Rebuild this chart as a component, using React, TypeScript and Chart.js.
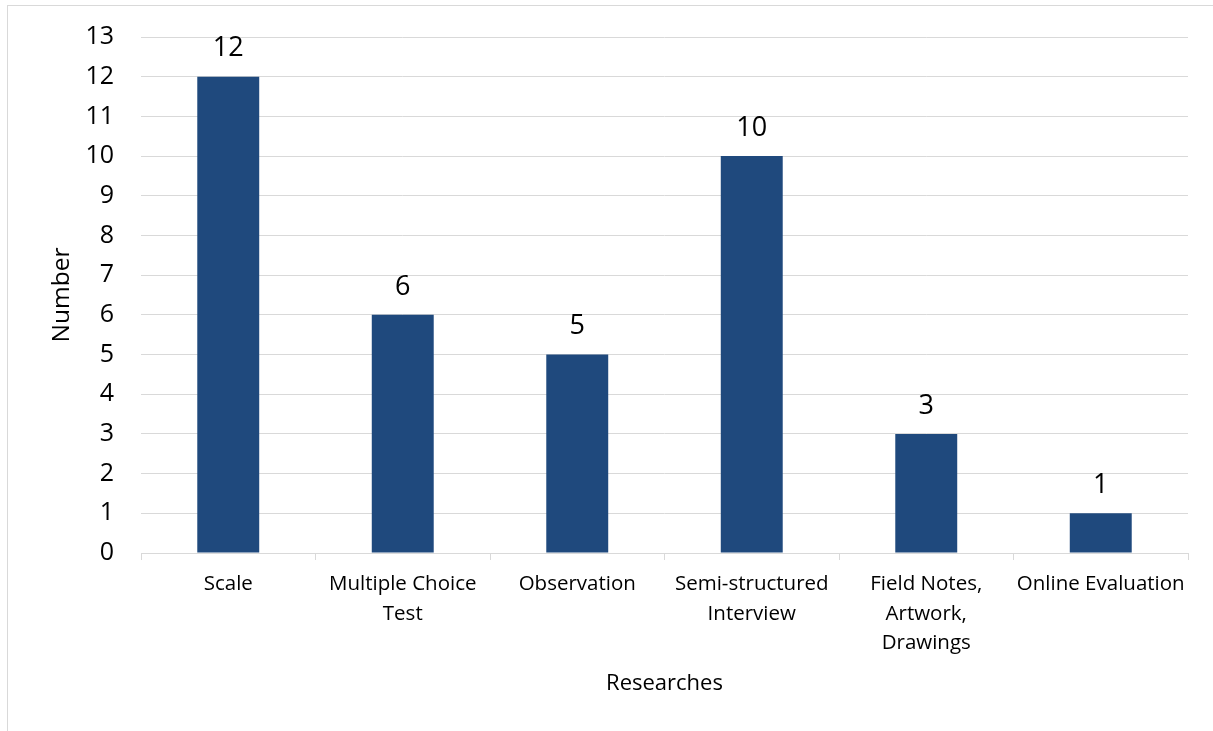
import React, { useEffect, useRef } from "react";
import { Chart, registerables } from "chart.js";

Chart.register(...registerables);

const categories: string[][] = [
  ["Scale"],
  ["Multiple Choice", "Test"],
  ["Observation"],
  ["Semi-structured", "Interview"],
  ["Field Notes,", "Artwork,", "Drawings"],
  ["Online Evaluation"],
];
const counts: number[] = [12, 6, 5, 10, 3, 1];
const yTitle = "Number";
const xTitle = "Researches";

const FONT = "'Open Sans', 'Noto Sans', sans-serif";
const GRID = "#d9d9d9";
const BAR = "#1f497d";

const dataLabels = {
  id: "dataLabels",
  afterDatasetsDraw(chart: any) {
    const ctx = chart.ctx;
    const meta = chart.getDatasetMeta(0);
    ctx.save();
    ctx.font = `27px ${FONT}`;
    ctx.fillStyle = "#000";
    ctx.textAlign = "center";
    ctx.textBaseline = "middle";
    meta.data.forEach((el: any, i: number) => {
      ctx.fillText(String(chart.data.datasets[0].data[i]), el.x, el.y - 28);
    });
    ctx.restore();
  },
};

export default function App() {
  const ref = useRef<HTMLCanvasElement | null>(null);
  useEffect(() => {
    document.body.style.margin = "0";
    const chart = new Chart(ref.current as HTMLCanvasElement, {
      type: "bar",
      data: {
        labels: categories,
        datasets: [
          {
            data: counts,
            backgroundColor: BAR,
            borderWidth: 0,
            categoryPercentage: 1,
            barPercentage: 0.355,
          },
        ],
      },
      options: {
        animation: false,
        responsive: true,
        maintainAspectRatio: false,
        layout: { padding: { left: 43, right: 25, top: 37, bottom: 30 } },
        plugins: {
          legend: { display: false },
          tooltip: { enabled: false },
        },
        scales: {
          x: {
            grid: {
              display: true,
              drawOnChartArea: false,
              drawTicks: true,
              tickLength: 7,
              color: GRID,
              offset: true,
            },
            border: { display: true, color: GRID, width: 1 },
            ticks: {
              color: "#000",
              font: { family: FONT, size: 20.5, lineHeight: 1.42 },
              padding: 10,
              maxRotation: 0,
              autoSkip: false,
            },
            title: {
              display: true,
              text: xTitle,
              color: "#000",
              font: { family: FONT, size: 22 },
              padding: { top: 4, bottom: 4 },
            },
            afterFit(scale: any) {
              scale.height = 148;
            },
          },
          y: {
            min: 0,
            max: 13,
            grid: {
              color: GRID,
              drawTicks: true,
              tickLength: 24,
              tickColor: "rgba(0,0,0,0)",
              lineWidth: 1,
            },
            border: { display: false },
            ticks: {
              stepSize: 1,
              color: "#000",
              font: { family: FONT, size: 25 },
              padding: 3,
            },
            title: {
              display: true,
              text: yTitle,
              color: "#000",
              font: { family: FONT, size: 24.5 },
              padding: { top: 4, bottom: 4 },
            },
            afterFit(scale: any) {
              scale.width = 98;
            },
          },
        },
      },
      plugins: [dataLabels],
    });
    return () => chart.destroy();
  }, []);
  return (
    <div style={{ position: "fixed", left: 0, top: 0, width: 1213, height: 731, background: "#fff" }}>
      <div
        style={{
          position: "absolute",
          left: 7,
          top: 5,
          width: 1213,
          height: 731,
          border: "1px solid #d9d9d9",
          boxSizing: "border-box",
        }}
      />
      <canvas ref={ref} style={{ position: "absolute", left: 0, top: 0 }} />
    </div>
  );
}
